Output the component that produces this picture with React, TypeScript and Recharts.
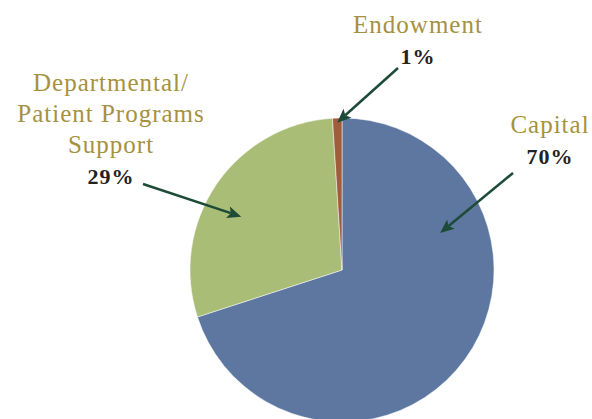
import { PieChart, Pie, Cell } from 'recharts';

// Data
const categories = ['Capital', 'Departmental/\nPatient Programs\nSupport', 'Endowment'];
const shares = [70, 29, 1];
const sliceColors = ['#5D77A0', '#A9BD76', '#A05D3D'];

const chartData = categories.map((name, i) => ({ name, value: shares[i] }));

// Where each label sits and where its arrow points (arrow tip given in polar terms around the pie)
const labelLayout = [
  { x: 550, y: 133, fromX: 513, fromY: 173, tipAngle: 20.7, tipR: 0.69 },
  { x: 111, y: 91, fromX: 143, fromY: 184, tipAngle: 152.1, tipR: 0.75 },
  { x: 418, y: 33, fromX: 398, fromY: 68, tipAngle: 91.9, tipR: 0.97 },
];

const GOLD = '#A6913F';
const ARROW = '#1D4B38';
const FONT = '"Liberation Serif", "DejaVu Serif", serif';
const LINE_H = 31;

function renderLabel(props: any) {
  const { cx, cy, outerRadius, index, value } = props;
  const lay = labelLayout[index];
  if (!lay) return null;
  const lines = categories[index].split('\n');
  const rad = (lay.tipAngle * Math.PI) / 180;
  const tipX = cx + Math.cos(rad) * outerRadius * lay.tipR;
  const tipY = cy - Math.sin(rad) * outerRadius * lay.tipR;
  const dx = tipX - lay.fromX;
  const dy = tipY - lay.fromY;
  const len = Math.sqrt(dx * dx + dy * dy);
  const ux = dx / len;
  const uy = dy / len;
  const headLen = 14;
  const headW = 6;
  const bx = tipX - ux * headLen;
  const by = tipY - uy * headLen;
  const head = [
    `${tipX},${tipY}`,
    `${bx - uy * headW},${by + ux * headW}`,
    `${bx + ux * 3},${by + uy * 3}`,
    `${bx + uy * headW},${by - ux * headW}`,
  ].join(' ');

  return (
    <g key={`label-${index}`}>
      {lines.map((line, i) => (
        <text
          key={i}
          x={lay.x}
          y={lay.y + i * LINE_H}
          textAnchor="middle"
          fill={GOLD}
          fontFamily={FONT}
          fontSize={25}
          letterSpacing={1}
        >
          {line}
        </text>
      ))}
      <text
        x={lay.x}
        y={lay.y + lines.length * LINE_H}
        textAnchor="middle"
        fill="#222222"
        fontFamily={FONT}
        fontSize={22}
        fontWeight="bold"
        letterSpacing={1}
      >
        {`${value}%`}
      </text>
      <line
        x1={lay.fromX}
        y1={lay.fromY}
        x2={bx + ux * 3}
        y2={by + uy * 3}
        stroke={ARROW}
        strokeWidth={2.5}
      />
      <polygon points={head} fill={ARROW} />
    </g>
  );
}

export default function App() {
  return (
    <div style={{ width: 592, height: 419, background: '#fff' }}>
      <style>{'body { margin: 0; }'}</style>
      <PieChart width={592} height={419} margin={{ top: 0, right: 0, bottom: 0, left: 0 }}>
        <Pie
          data={chartData}
          dataKey="value"
          nameKey="name"
          cx={342}
          cy={270}
          outerRadius={152}
          startAngle={90}
          endAngle={-270}
          stroke="#ffffff"
          strokeWidth={0.5}
          label={renderLabel}
          labelLine={false}
          isAnimationActive={false}
        >
          {chartData.map((entry, i) => (
            <Cell key={`cell-${entry.name}`} fill={sliceColors[i]} />
          ))}
        </Pie>
      </PieChart>
    </div>
  );
}
